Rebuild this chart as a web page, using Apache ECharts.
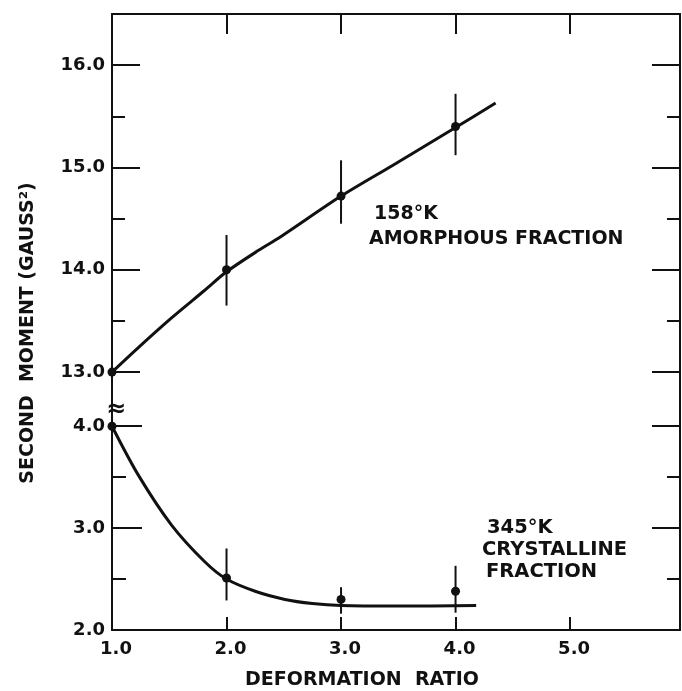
<!DOCTYPE html>
<html>
<head>
<meta charset="utf-8">
<script src="https://cdn.jsdelivr.net/npm/echarts@6/dist/echarts.min.js"></script>
<style>
  html, body { margin: 0; padding: 0; background: #fff; }
  #chart { width: 682px; height: 691px; }
</style>
</head>
<body>
<div id="chart"></div>
<script>
// 158°K amorphous fraction (upper part of the broken axis)
var amorphX = [1.0, 2.0, 3.0, 4.0];
var amorphY = [13.0, 14.0, 14.72, 15.40];
var amorphErrX = [2.0, 3.0, 4.0];
var amorphLo = [13.65, 14.45, 15.12];
var amorphHi = [14.34, 15.07, 15.72];
var amorphCurveX = [1.0, 1.23, 1.52, 1.81, 2.0, 2.28, 2.47, 3.0, 3.45, 4.0, 4.35];
var amorphCurveY = [13.0, 13.24, 13.53, 13.80, 13.98, 14.19, 14.32, 14.72, 15.02, 15.39, 15.63];

// 345°K crystalline fraction (lower part)
var crystX = [1.0, 2.0, 3.0, 4.0];
var crystY = [4.0, 2.51, 2.30, 2.38];
var crystErrX = [2.0, 3.0, 4.0];
var crystLo = [2.29, 2.16, 2.17];
var crystHi = [2.80, 2.42, 2.63];
var crystCurveX = [1.0, 1.23, 1.52, 1.81, 2.0, 2.25, 2.51, 2.75, 3.0, 3.5, 4.18];
var crystCurveY = [4.0, 3.52, 3.03, 2.67, 2.50, 2.38, 2.30, 2.26, 2.24, 2.235, 2.24];

// ticks / labels
var xTicks = [2, 3, 4, 5];
var xLabels = [1, 2, 3, 4, 5];
var upperMajor = [13, 14, 15, 16];
var upperMinor = [13.5, 14.5, 15.5];
var lowerMajor = [3, 4];
var lowerMinor = [2.5, 3.5];
var lowerLabels = [2, 3, 4];

var FONT = 'DejaVu Sans';
var INK = '#111';

function zip(a, b) {
	return a.map(function(v, i) { return [v, b[i]]; });
}

function errData(xs, lo, hi) {
	return xs.map(function(v, i) { return [v, lo[i], hi[i]]; });
}

// vertical error bar
function renderErr(params, api) {
	var p1 = api.coord([api.value(0), api.value(1)]);
	var p2 = api.coord([api.value(0), api.value(2)]);
	return {
		type: 'line',
		shape: { x1: p1[0], y1: p1[1], x2: p2[0], y2: p2[1] },
		style: { stroke: INK, lineWidth: 2 }
	};
}

// y axis builder
function yAx(grid, pos, min, max, ticks, len, labels) {
	return {
		type: 'value', gridIndex: grid, position: pos, min: min, max: max,
		splitLine: { show: false },
		axisLine: { show: len > 20, onZero: false, lineStyle: { color: INK, width: 2 } },
		axisTick: { show: true, inside: true, length: len, customValues: ticks,
			lineStyle: { color: INK, width: 2 } },
		axisLabel: labels ? {
			show: true, customValues: labels, margin: 7,
			formatter: function(v) { return v.toFixed(1); },
			fontFamily: FONT, fontWeight: 'bold', fontSize: 18, color: INK
		} : { show: false }
	};
}

var chart = echarts.init(document.getElementById('chart'));

var option = {
	backgroundColor: '#fff',
	animation: false,
	grid: [
		{ left: 112, top: 14, width: 568, height: 399 },
		{ left: 112, top: 413, width: 568, height: 217 }
	],
	xAxis: [
		{
			type: 'value', gridIndex: 0, position: 'top', min: 1, max: 5.96,
			splitLine: { show: false },
			axisLine: { onZero: false, lineStyle: { color: INK, width: 2 } },
			axisTick: { inside: true, length: 20, customValues: xTicks, lineStyle: { color: INK, width: 2 } },
			axisLabel: { show: false }
		},
		{
			type: 'value', gridIndex: 1, position: 'bottom', min: 1, max: 5.96,
			splitLine: { show: false },
			axisLine: { onZero: false, lineStyle: { color: INK, width: 2 } },
			axisTick: { inside: true, length: 13, customValues: xTicks, lineStyle: { color: INK, width: 2 } },
			axisLabel: {
				customValues: xLabels, margin: 10, padding: [0, 0, 0, 8],
				formatter: function(v) { return v.toFixed(1); },
				fontFamily: FONT, fontWeight: 'bold', fontSize: 18, color: INK
			}
		}
	],
	yAxis: [
		yAx(0, 'left', 12.6, 16.5, upperMajor, 28, upperMajor),
		yAx(0, 'left', 12.6, 16.5, upperMinor, 13),
		yAx(0, 'right', 12.6, 16.5, upperMajor, 28),
		yAx(0, 'right', 12.6, 16.5, upperMinor, 13),
		yAx(1, 'left', 2.0, 4.13, lowerMajor, 30, lowerLabels),
		yAx(1, 'left', 2.0, 4.13, lowerMinor, 14),
		yAx(1, 'right', 2.0, 4.13, lowerMajor, 28),
		yAx(1, 'right', 2.0, 4.13, lowerMinor, 13)
	],
	graphic: [
		{ type: 'text', x: 28, y: 333, rotation: Math.PI / 2,
			style: { text: 'SECOND  MOMENT (GAUSS²)', fontFamily: FONT, fontWeight: 'bold', fontSize: 19,
				fill: INK, align: 'center', verticalAlign: 'middle' } },
		{ type: 'text', x: 362, y: 680,
			style: { text: 'DEFORMATION  RATIO', fontFamily: FONT, fontWeight: 'bold', fontSize: 19,
				fill: INK, align: 'center', verticalAlign: 'middle' } },
		{ type: 'text', x: 116, y: 410,
			style: { text: '≈', fontFamily: FONT, fontWeight: 'bold', fontSize: 24,
				fill: INK, align: 'center', verticalAlign: 'middle' } },
		{ type: 'text', x: 374, y: 205,
			style: { text: '158°K', fontFamily: FONT, fontWeight: 'bold', fontSize: 19, fill: INK } },
		{ type: 'text', x: 369, y: 230,
			style: { text: 'AMORPHOUS FRACTION', fontFamily: FONT, fontWeight: 'bold', fontSize: 19, fill: INK } },
		{ type: 'text', x: 487, y: 518,
			style: { text: '345°K', fontFamily: FONT, fontWeight: 'bold', fontSize: 19.5, fill: INK } },
		{ type: 'text', x: 482, y: 540,
			style: { text: 'CRYSTALLINE', fontFamily: FONT, fontWeight: 'bold', fontSize: 19.5, fill: INK } },
		{ type: 'text', x: 486, y: 562,
			style: { text: 'FRACTION', fontFamily: FONT, fontWeight: 'bold', fontSize: 19.5, fill: INK } }
	],
	series: [
		{
			type: 'line', xAxisIndex: 0, yAxisIndex: 0,
			data: zip(amorphCurveX, amorphCurveY),
			smooth: 0.3, showSymbol: false,
			lineStyle: { color: INK, width: 3 }
		},
		{
			type: 'custom', xAxisIndex: 0, yAxisIndex: 0,
			data: errData(amorphErrX, amorphLo, amorphHi),
			renderItem: renderErr
		},
		{
			type: 'scatter', xAxisIndex: 0, yAxisIndex: 0,
			data: zip(amorphX, amorphY),
			symbolSize: 9, itemStyle: { color: INK, opacity: 1 }
		},
		{
			type: 'line', xAxisIndex: 1, yAxisIndex: 4,
			data: zip(crystCurveX, crystCurveY),
			smooth: 0.3, showSymbol: false,
			lineStyle: { color: INK, width: 3 }
		},
		{
			type: 'custom', xAxisIndex: 1, yAxisIndex: 4,
			data: errData(crystErrX, crystLo, crystHi),
			renderItem: renderErr
		},
		{
			type: 'scatter', xAxisIndex: 1, yAxisIndex: 4,
			data: zip(crystX, crystY),
			symbolSize: 9, itemStyle: { color: INK, opacity: 1 }
		}
	]
};

chart.setOption(option);
</script>
</body>
</html>
